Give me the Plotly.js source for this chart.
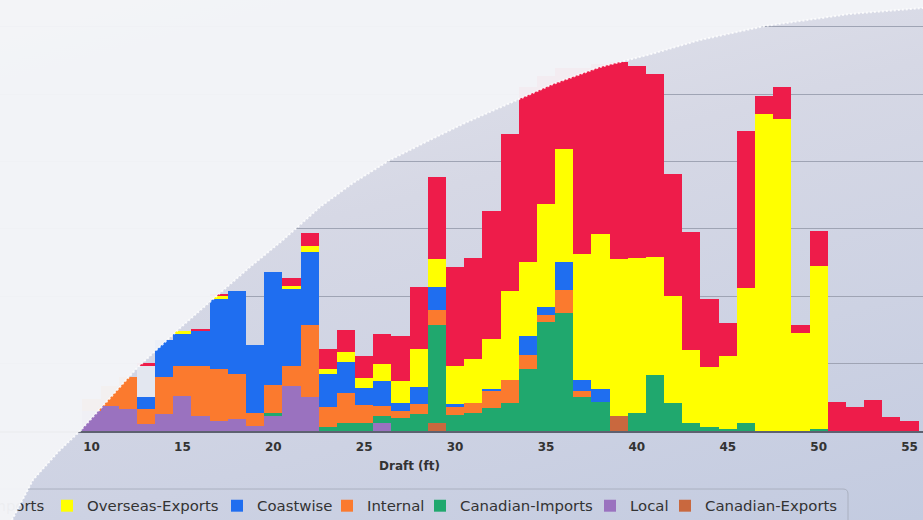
<!DOCTYPE html>
<html>
<head>
<meta charset="utf-8">
<script src="https://cdn.plot.ly/plotly-3.0.1.min.js"></script>
<style>
  html, body { margin: 0; padding: 0; }
  body { width: 923px; height: 520px; overflow: hidden; position: relative;
         background: linear-gradient(165deg, #e6e7ee 0%, #d6d8e5 40%, #cdd2e3 70%, #c3cbe0 100%); }
  #chart { width: 923px; height: 520px; position: absolute; left: 0; top: 0; }
  #glare { position: absolute; left: 0; top: 0; width: 923px; height: 520px; pointer-events: none; }
</style>
</head>
<body>
<div id="chart"></div>
<svg id="glare" width="923" height="520" viewBox="0 0 923 520" xmlns="http://www.w3.org/2000/svg">
  <path id="glareFill" fill="#f3f4f7" fill-opacity="0.97" stroke="none"></path>
  <path id="glareEdge" fill="none" stroke="#ffffff" stroke-width="2" stroke-dasharray="2,2" stroke-opacity="0.8"></path>
</svg>
<script>
// Draft (ft) categories
const drafts = [10,11,12,13,14,15,16,17,18,19,20,21,22,23,24,25,26,27,28,29,30,31,32,33,34,35,36,37,38,39,40,41,42,43,44,45,46,47,48,49,50,51,52,53,54,55];

// Series values (stacked, bottom to top)
const canadianExports = [0,0,0,0,0,0,0,0,0,0, 0,0,0,0,0,0,0,0,0,12, 0,0,0,0,0,0,0,0,0,22, 0,0,0,0,0,0,0,0,0,0, 0,0,0,0,0,0];
const local           = [30,37,33,10,25,52,22,15,18,7, 22,67,50,0,0,0,12,0,0,0, 0,0,0,0,0,0,0,0,0,0, 0,0,0,0,0,0,0,0,0,0, 0,0,0,0,0,0];
const canadianImports = [0,0,0,0,0,0,0,0,0,0, 4,0,0,6,12,12,10,19,25,145, 24,27,34,42,92,162,175,50,43,0, 27,83,42,12,6,3,12,0,0,0, 3,0,0,0,0,0];
const internal        = [18,30,47,22,55,45,74,77,67,19, 42,30,107,30,45,27,15,10,15,22, 12,15,25,34,21,10,34,10,0,0, 0,0,0,0,0,0,0,0,0,0, 0,0,0,0,0,0];
const coastwise       = [0,0,0,18,55,47,52,104,122,101, 168,114,108,49,45,25,37,12,25,34, 4,0,4,0,28,12,42,15,19,0, 0,0,0,0,0,0,0,0,0,0, 0,0,0,0,0,0];
const overseasExports = [0,0,0,47,0,4,0,4,0,0, 0,4,10,7,15,15,25,33,56,42, 56,65,73,131,110,153,168,188,230,233, 230,175,159,108,89,108,200,470,463,145, 242,0,0,0,0,0];
const overseasImports = [0,0,0,4,0,0,3,3,0,0, 0,12,19,30,33,33,45,67,92,122, 147,150,190,234,260,190,120,275,252,292, 285,272,181,175,101,49,233,27,47,12, 52,43,36,46,21,15];

const xTicks = [10,15,20,25,30,35,40,45,50,55];

const W = 923, H = 520, plotBottom = 431;
const px2x = px => px / W;
const py2y = py => (plotBottom - py) / plotBottom;

// legend text start positions (pixels) for each series, as laid out in the reference legend strip
const seriesDefs = [
  {name: 'Canadian-Exports', y: canadianExports, color: '#c9683e', legendText: 705},
  {name: 'Local',            y: local,           color: '#9a72bf', legendText: 630},
  {name: 'Canadian-Imports', y: canadianImports, color: '#20a86e', legendText: 460},
  {name: 'Internal',         y: internal,        color: '#fb7a2e', legendText: 367},
  {name: 'Coastwise',        y: coastwise,       color: '#1f6ef0', legendText: 257},
  {name: 'Overseas-Exports', y: overseasExports, color: '#ffff00', legendText: 87},
  {name: 'Overseas-Imports', y: overseasImports, color: '#ee1c4a', legendText: -88}
];

const legendFont = {family: 'DejaVu Sans, sans-serif', size: 14.9, color: '#333'};
const layoutLegends = {};
const traces = seriesDefs.map((s, i) => {
  let col = s.color;
  if (s.name === 'Overseas-Exports') {
    col = drafts.map(d => d === 13 ? '#e3e7f0' : s.color);
  }
  const key = i === 0 ? 'legend' : 'legend' + (i + 1);
  layoutLegends[key] = {
    orientation: 'h', x: px2x(s.legendText - 40), xanchor: 'left',
    y: py2y(506), yanchor: 'middle', font: legendFont,
    bgcolor: 'rgba(0,0,0,0)', borderwidth: 0
  };
  return {
    type: 'bar', name: s.name, x: drafts, y: s.y, width: 1,
    legend: key,
    marker: {color: col, line: {width: 0}},
    hoverinfo: 'x+y+name'
  };
});

// legend frame (pixels)
const fL = -130, fR = 848, fT = 489, fB = 530, rad = 5;
const framePath = 'M' + px2x(fL) + ',' + py2y(fB) +
  ' L' + px2x(fL) + ',' + py2y(fT) +
  ' L' + px2x(fR - rad) + ',' + py2y(fT) +
  ' Q' + px2x(fR) + ',' + py2y(fT) + ' ' + px2x(fR) + ',' + py2y(fT + rad) +
  ' L' + px2x(fR) + ',' + py2y(fB);

const layout = Object.assign({
  width: W, height: H,
  margin: {l: 0, r: 0, t: 0, b: H - plotBottom, pad: 0, autoexpand: false},
  paper_bgcolor: 'rgba(0,0,0,0)',
  plot_bgcolor: 'rgba(0,0,0,0)',
  barmode: 'stack', bargap: 0,
  font: {family: 'DejaVu Sans, sans-serif', color: '#333'},
  xaxis: {
    range: [4.967, 55.74], tickvals: xTicks, ticktext: xTicks.map(String),
    showgrid: false, zeroline: false, showline: true, linecolor: '#5d6170', linewidth: 2,
    ticks: '', ticklabelstandoff: 4, automargin: false,
    tickfont: {family: 'DejaVu Sans, sans-serif', size: 12, color: '#333', weight: 'bold'}
  },
  yaxis: {
    range: [0, 639.5], dtick: 100, showticklabels: false, zeroline: false, automargin: false,
    showgrid: true, gridcolor: '#9fa4b4', gridwidth: 1
  },
  annotations: [{
    text: 'Draft (ft)', xref: 'paper', yref: 'paper', x: px2x(409), y: py2y(466),
    xanchor: 'center', yanchor: 'middle', showarrow: false,
    font: {family: 'DejaVu Sans, sans-serif', size: 12, color: '#333', weight: 'bold'}
  }],
  shapes: [
    {type: 'path', xref: 'paper', yref: 'paper', path: framePath, layer: 'below',
     line: {color: '#aab0c0', width: 1}}
  ],
  showlegend: true
}, layoutLegends);

Plotly.newPlot('chart', traces, layout, {displayModeBar: false, staticPlot: true});

// Decorative glare sweeping over the upper-left of the picture (pixel outline)
const glare = [[0,520],[12,520],[33,480],[58,452],[80,431],[110,398],[137,368],[180,328],[220,293],[250,267],[283,240],[320,207],[353,183],[390,160],[430,140],[465,123],[517,100],[553,84],[600,67],[648,55],[700,40],[765,26],[850,14],[923,8],[923,0],[0,0]];
const toD = pts => pts.map((p,i) => (i ? 'L' : 'M') + p[0] + ',' + p[1]).join(' ');
document.getElementById('glareFill').setAttribute('d', toD(glare) + ' Z');
document.getElementById('glareEdge').setAttribute('d', toD(glare.slice(1, 24)));
</script>
</body>
</html>
